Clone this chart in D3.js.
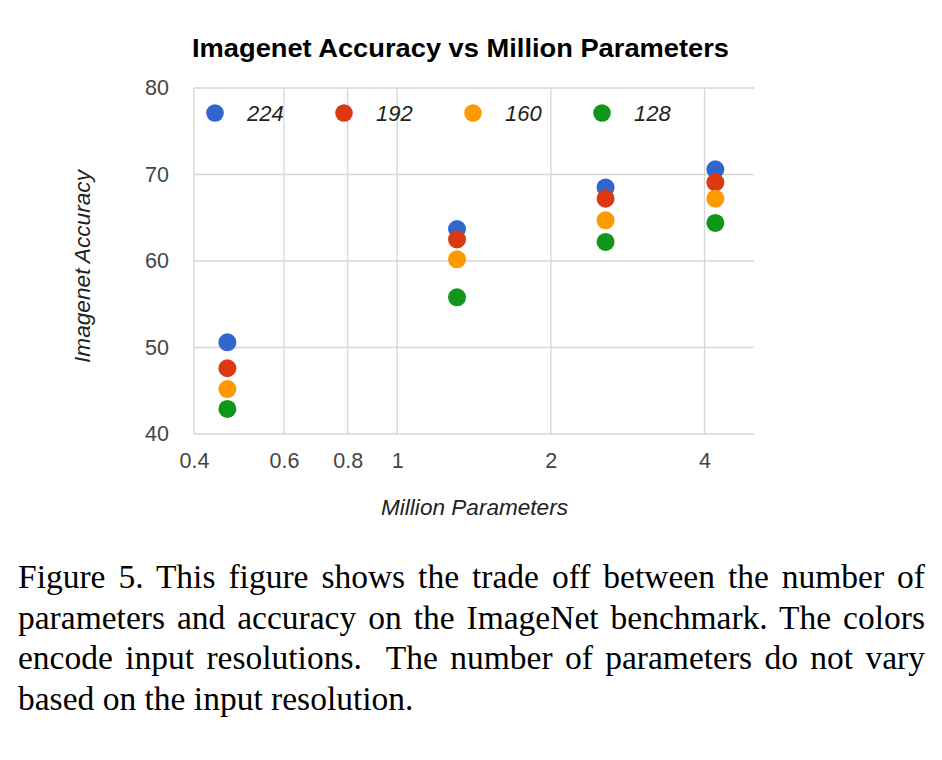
<!DOCTYPE html>
<html>
<head>
<meta charset="utf-8">
<script src="https://cdn.jsdelivr.net/npm/d3@7"></script>
<style>
  body { margin: 0; background: #fff; }
  svg { display: block; }
</style>
</head>
<body>
<div id="chart"></div>
<script>
// chart data
const resolutions = ['224', '192', '160', '128'];
const params = [0.465, 1.31, 2.56, 4.2];
const acc224 = [50.6, 63.7, 68.5, 70.6];
const acc192 = [47.6, 62.5, 67.2, 69.1];
const acc160 = [45.2, 60.2, 64.7, 67.2];
const acc128 = [42.9, 55.8, 62.2, 64.4];
const seriesColors = ['#3366cc', '#dc3912', '#ff9900', '#109618'];
const xTicks = [0.4, 0.6, 0.8, 1, 2, 4];
const yTicks = [40, 50, 60, 70, 80];
const captionLines = [
    'Figure 5. This figure shows the trade off between the number of',
    'parameters and accuracy on the ImageNet benchmark. The colors',
    'encode input resolutions.  The number of parameters do not vary',
    'based on the input resolution.'
];

(function () {
    let width = 942, height = 760,
        margins = { left: 194, right: 188, top: 88, bottom: 326 },
        sans = 'Liberation Sans, Arial, sans-serif',
        series = [acc224, acc192, acc160, acc128];

    let svg = d3.select('#chart').append('svg')
        .attr('width', width).attr('height', height);

    let x = d3.scaleLog().domain([0.4, 5]).range([margins.left, width - margins.right]),
        y = d3.scaleLinear().domain([40, 80]).range([height - margins.bottom, margins.top]);

    // title
    svg.append('text')
        .attr('x', 192).attr('y', 57)
        .attr('font-family', sans)
        .attr('font-weight', 'bold').attr('font-size', 25)
        .attr('textLength', 537).attr('lengthAdjust', 'spacingAndGlyphs')
        .attr('fill', '#000')
        .text('Imagenet Accuracy vs Million Parameters');

    // grid
    let grid = svg.append('g').attr('stroke', '#d6d6d6').attr('stroke-width', 1.3);
    grid.selectAll('.hg').data(yTicks).enter().append('line')
        .attr('x1', x(0.4)).attr('x2', x(5))
        .attr('y1', function (d) { return y(d); }).attr('y2', function (d) { return y(d); });
    grid.selectAll('.vg').data(xTicks).enter().append('line')
        .attr('y1', y(40)).attr('y2', y(80))
        .attr('x1', function (d) { return x(d); }).attr('x2', function (d) { return x(d); });

    // axes via d3 axis generators, lines hidden
    let xAxis = svg.append('g')
        .attr('transform', 'translate(0,' + y(40) + ')')
        .call(d3.axisBottom(x).tickValues(xTicks).tickFormat(d3.format('')).tickSize(0).tickPadding(19));
    let yAxis = svg.append('g')
        .attr('transform', 'translate(169,0)')
        .call(d3.axisLeft(y).tickValues(yTicks).tickSize(0).tickPadding(0));
    [xAxis, yAxis].forEach(function (a) {
        a.select('.domain').remove();
        a.selectAll('text')
            .attr('font-family', sans)
            .attr('font-size', 21.5).attr('fill', '#444');
    });

    // axis titles
    svg.append('text')
        .attr('x', 381).attr('y', 515)
        .attr('font-family', sans)
        .attr('font-style', 'italic').attr('font-size', 22).attr('fill', '#222')
        .attr('textLength', 187).attr('lengthAdjust', 'spacingAndGlyphs')
        .text('Million Parameters');
    svg.append('text')
        .attr('transform', 'translate(90,363) rotate(-90)')
        .attr('font-family', sans)
        .attr('font-style', 'italic').attr('font-size', 22).attr('fill', '#222')
        .attr('textLength', 193).attr('lengthAdjust', 'spacingAndGlyphs')
        .text('Imagenet Accuracy');

    // points
    series.forEach(function (vals, s) {
        svg.append('g').selectAll('circle').data(vals).enter().append('circle')
            .attr('cx', function (d, i) { return x(params[i]); })
            .attr('cy', function (d) { return y(d); })
            .attr('r', 9)
            .attr('fill', seriesColors[s]);
    });

    // legend
    let legend = svg.selectAll('.leg').data(resolutions).enter().append('g')
        .attr('transform', function (d, i) { return 'translate(' + (215 + i * 129) + ',113)'; });
    legend.append('circle').attr('r', 8.8)
        .attr('fill', function (d, i) { return seriesColors[i]; });
    legend.append('text')
        .attr('x', 32).attr('dy', '0.36em')
        .attr('font-family', sans)
        .attr('font-style', 'italic').attr('font-size', 22).attr('fill', '#222')
        .text(function (d) { return d; });

    // caption, justified by word spacing
    let left = 18, right = 925;
    captionLines.forEach(function (line, i) {
        let t = svg.append('text')
            .attr('x', left).attr('y', 588 + i * 40.5)
            .attr('font-family', 'Liberation Serif, Times New Roman, serif')
            .attr('font-size', 33.5).attr('fill', '#000')
            .style('white-space', 'pre')
            .text(line);
        if (i < captionLines.length - 1) {
            let w = t.node().getComputedTextLength(),
                gaps = line.split(' ').length - 1;
            t.attr('word-spacing', ((right - left - w) / gaps) + 'px');
        }
    });
})();
</script>
</body>
</html>
